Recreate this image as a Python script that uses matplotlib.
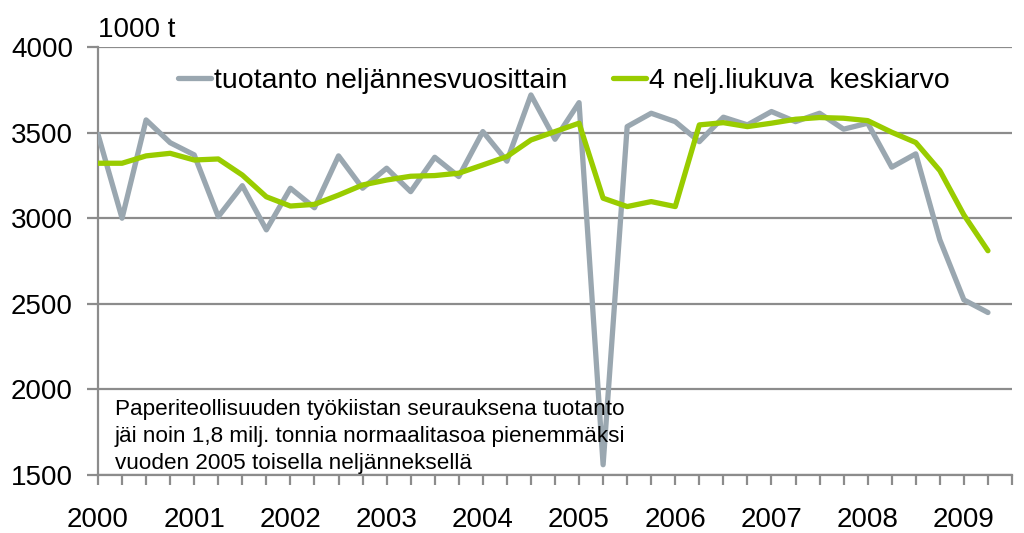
import matplotlib.pyplot as plt
import numpy as np

plt.rcParams['font.family'] = ['Liberation Sans', 'DejaVu Sans']

# --- data: quarterly production 2000Q1 - 2009Q2 (1000 t) ---
years = list(range(2000, 2010))
production = [3490, 3000, 3574, 3441, 3370, 3009, 3190, 2932,
              3175, 3061, 3364, 3175, 3292, 3155, 3356, 3243,
              3506, 3333, 3720, 3461, 3675, 1560, 3535, 3613,
              3564, 3447, 3590, 3545, 3623, 3564, 3613, 3520,
              3555, 3298, 3376, 2874, 2523, 2449]
moving_avg = [3321, 3321, 3364, 3379, 3340, 3346, 3252, 3125,
              3071, 3081, 3135, 3194, 3223, 3245, 3249, 3263,
              3311, 3360, 3457, 3506, 3555, 3117, 3068, 3097,
              3068, 3545, 3558, 3535, 3555, 3578, 3588, 3584,
              3570, 3502, 3442, 3278, 3019, 2810]
label_prod = "tuotanto neljännesvuosittain"
label_avg = "4 nelj.liukuva  keskiarvo"
note = ("Paperiteollisuuden työkiistan seurauksena tuotanto\n"
        "jäi noin 1,8 milj. tonnia normaalitasoa pienemmäksi\n"
        "vuoden 2005 toisella neljänneksellä")

x = np.arange(len(production))

W, H = 1024, 533
fig = plt.figure(figsize=(W / 100, H / 100), dpi=100)
ax = fig.add_axes([98 / W, 1 - 475 / H, (1012 - 98) / W, (475 - 47) / H])

grid_col = "#8c8c8c"
ax.plot(x, production, color="#9aa7b0", lw=3.8, solid_joinstyle="round",
        solid_capstyle="round", label=label_prod, zorder=3)
ax.plot(x, moving_avg, color="#99cc00", lw=3.8, solid_joinstyle="round",
        solid_capstyle="round", label=label_avg, zorder=4)

ax.set_xlim(0, 38)
ax.set_ylim(1500, 4000)
ax.set_yticks(range(1500, 4001, 500))
ax.yaxis.grid(True, color=grid_col, lw=1.6)
ax.set_axisbelow(True)

ticks = list(range(0, 39))
ax.set_xticks(ticks)
ax.set_xticklabels([str(2000 + t // 4) if t % 4 == 0 and t < 38 else "" for t in ticks])

for s in ["top", "right"]:
    ax.spines[s].set_visible(False)
for s in ["left", "bottom"]:
    ax.spines[s].set_color(grid_col)
    ax.spines[s].set_linewidth(1.6)

ax.tick_params(axis="y", length=8, width=1.6, color=grid_col, labelsize=20, pad=10)
ax.tick_params(axis="x", length=7, width=1.6, color=grid_col, labelsize=20, pad=16)

fig.text(98 / W, 1 - 30 / H, "1000 t", fontsize=20, va="center", ha="left")

ax.legend(loc="upper left", bbox_to_anchor=(178 / W, 1 - 68 / H),
          bbox_transform=fig.transFigure, ncol=2, frameon=False,
          borderpad=0, borderaxespad=0, fontsize=20.5, handlelength=1.15,
          handletextpad=0.12, columnspacing=1.6)

fig.text(115 / W, 1 - 399 / H, note, fontsize=16.2, va="top", ha="left",
         linespacing=1.36)

fig.savefig("out.png", dpi=100)
